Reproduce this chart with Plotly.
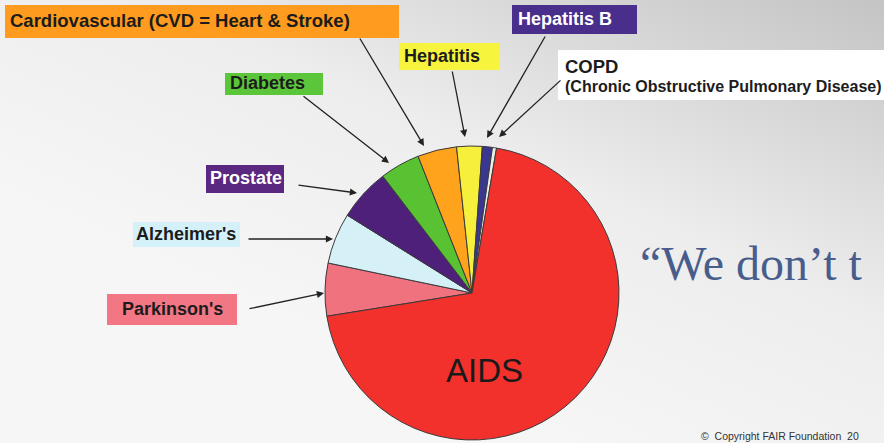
import base64
import plotly.graph_objects as go

W, H = 884, 443

# ---- data (percent of pie) ----
diseases = ["Parkinson's", "Alzheimer's", "Prostate", "Diabetes",
            "Cardiovascular (CVD = Heart & Stroke)", "Hepatitis", "Hepatitis B",
            "COPD", "AIDS"]
shares = [5.8, 5.6, 5.75, 4.4, 4.3, 2.8, 1.1, 0.45, 69.8]
slice_colors = ["#f0727e", "#d6f0f7", "#4e2079", "#58c232", "#ffa21c",
                "#f6ef3c", "#3b3690", "#e6f2e6", "#f2312c"]

# label boxes: text, box colour, text colour
label_texts = ["Cardiovascular (CVD = Heart & Stroke)", "Diabetes", "Hepatitis",
               "Hepatitis B", "Prostate", "Alzheimer's", "Parkinson's"]
label_box_colors = ["#ff9b1e", "#5cc63a", "#f7f43e", "#4a2e8c", "#5a2781",
                    "#d4f1fa", "#f37685"]
label_text_colors = ["#1c1c1c", "#1c1c1c", "#1c1c1c", "#ffffff", "#ffffff",
                     "#1c1c1c", "#1c1c1c"]
copd_lines = ["COPD", "(Chronic Obstructive Pulmonary Disease)"]
quote_text = "\u201cWe don\u2019t t"
copyright_text = "\u00a9  Copyright FAIR Foundation  20"


def X(px):
    return px / W


def Y(py):
    return 1 - py / H


# ---- background gradient (svg data uri) ----
svg = f'''<svg xmlns="http://www.w3.org/2000/svg" width="{W}" height="{H}">
<defs>
<linearGradient id="g" x1="0.35" y1="0.75" x2="1" y2="0">
<stop offset="0" stop-color="#f6f6f6"/>
<stop offset="0.45" stop-color="#ededed"/>
<stop offset="1" stop-color="#c4c4c4"/>
</linearGradient>
</defs>
<rect width="{W}" height="{H}" fill="url(#g)"/>
</svg>'''
bg_uri = "data:image/svg+xml;base64," + base64.b64encode(svg.encode()).decode()

cx, cy, r = 472, 293, 147

fig = go.Figure(go.Pie(
    labels=diseases,
    values=shares,
    sort=False,
    direction="clockwise",
    rotation=-99.1,
    marker=dict(colors=slice_colors, line=dict(color="#3a3a3a", width=1)),
    textinfo="none",
    hoverinfo="label+percent",
    showlegend=False,
    domain=dict(x=[X(cx - r), X(cx + r)], y=[Y(cy + r), Y(cy - r)]),
))

shapes = []
annotations = []

# boxes (x0, x1, y0, y1 in px) and text start x
boxes = [(5, 399, 5, 38), (225, 323, 73, 95), (399, 499, 43, 70),
         (512, 637, 5, 34), (206, 284, 165, 193), (133, 240, 222, 247),
         (107, 237, 294, 325)]
text_x = [9, 229, 403, 517, 209, 135, 121]
font_sizes = [18.5, 18, 18, 18, 18, 18, 18]

for (x0, x1, y0, y1), txt, bc, tc, tx, fs in zip(boxes, label_texts, label_box_colors,
                                                label_text_colors, text_x, font_sizes):
    shapes.append(dict(type="rect", xref="paper", yref="paper",
                       x0=X(x0), x1=X(x1), y0=Y(y1), y1=Y(y0),
                       fillcolor=bc, line=dict(width=0), layer="above"))
    annotations.append(dict(text=f"<b>{txt}</b>", x=X(tx), y=Y((y0 + y1) / 2 - 1),
                            xref="paper", yref="paper", xanchor="left", yanchor="middle",
                            showarrow=False, borderpad=0,
                            font=dict(family="Liberation Sans, Arial, sans-serif",
                                      size=fs, color=tc)))

# COPD white box and two lines
shapes.append(dict(type="rect", xref="paper", yref="paper",
                   x0=X(558), x1=X(884), y0=Y(100), y1=Y(50),
                   fillcolor="#ffffff", line=dict(width=0), layer="above"))
annotations.append(dict(text=f"<b>{copd_lines[0]}</b>", x=X(564), y=Y(66),
                        xref="paper", yref="paper", xanchor="left", yanchor="middle",
                        showarrow=False, borderpad=0,
                        font=dict(family="Liberation Sans, Arial, sans-serif",
                                  size=18.5, color="#1c1c1c")))
annotations.append(dict(text=f"<b>{copd_lines[1]}</b>", x=X(564), y=Y(86),
                        xref="paper", yref="paper", xanchor="left", yanchor="middle",
                        showarrow=False, borderpad=0,
                        font=dict(family="Liberation Sans, Arial, sans-serif",
                                  size=16, color="#1c1c1c")))

# arrows: (tail px, head px)
arrows = [((359, 37), (424, 146)),   # cardiovascular
          ((302, 95), (389, 163)),   # diabetes
          ((452, 70), (465, 137)),   # hepatitis
          ((546, 35), (487, 138)),   # hepatitis B
          ((562, 79), (499, 137)),   # COPD
          ((297, 185), (357, 193)),  # prostate
          ((247, 239), (333, 239)),  # alzheimer
          ((248, 309), (324, 293))]  # parkinson
for (tx_, ty_), (hx, hy) in arrows:
    annotations.append(dict(text="", x=X(hx), y=Y(hy), xref="paper", yref="paper",
                            ax=tx_ - hx, ay=ty_ - hy, axref="pixel", ayref="pixel",
                            showarrow=True, arrowhead=2, arrowsize=1.1,
                            arrowwidth=1.3, arrowcolor="#222222",
                            standoff=0, startstandoff=0))

# AIDS label
annotations.append(dict(text="AIDS", x=X(484), y=Y(370), xref="paper", yref="paper",
                        xanchor="center", yanchor="middle", showarrow=False,
                        font=dict(family="Liberation Sans, Arial, sans-serif",
                                  size=33, color="#1a1a1a")))

# quote
annotations.append(dict(text=quote_text, x=X(638), y=Y(263), xref="paper", yref="paper",
                        xanchor="left", yanchor="middle", showarrow=False,
                        font=dict(family="Liberation Serif, Times New Roman, serif",
                                  size=48, color="#485d8c")))

# copyright
annotations.append(dict(text=copyright_text, x=X(699), y=Y(436), xref="paper", yref="paper",
                        xanchor="left", yanchor="middle", showarrow=False,
                        font=dict(family="Liberation Sans, Arial, sans-serif",
                                  size=10.5, color="#333333")))

fig.update_layout(
    width=W, height=H,
    margin=dict(l=0, r=0, t=0, b=0),
    paper_bgcolor="#f2f2f2",
    plot_bgcolor="rgba(0,0,0,0)",
    shapes=shapes,
    annotations=annotations,
    images=[dict(source=bg_uri, xref="paper", yref="paper", x=0, y=1,
                 sizex=1, sizey=1, sizing="stretch", layer="below",
                 xanchor="left", yanchor="top")],
    xaxis=dict(visible=False), yaxis=dict(visible=False),
)

fig.write_html("out.html", config={"displayModeBar": False},
               post_script="document.body.style.margin='0';document.body.style.overflow='hidden';")
